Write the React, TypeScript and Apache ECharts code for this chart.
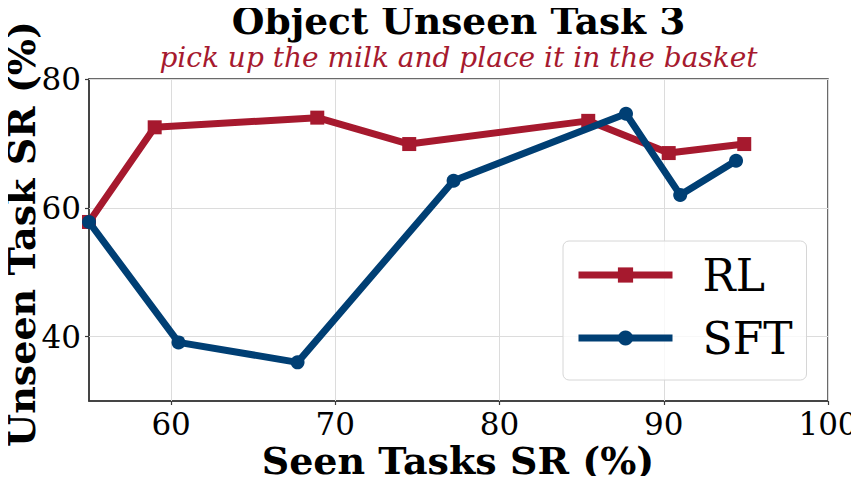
import React, { useEffect, useRef } from "react";
import * as echarts from "echarts";

const TITLE = "Object Unseen Task 3";
const SUBTITLE = "pick up the milk and place it in the basket";
const X_NAME = "Seen Tasks SR (%)";
const Y_NAME = "Unseen Task SR (%)";

const X_TICKS = [60, 70, 80, 90, 100];
const Y_TICKS = [40, 60, 80];

const RL_X = [55.0, 59.0, 68.9, 74.5, 85.4, 90.3, 94.9];
const RL_Y = [57.8, 72.5, 74.0, 69.9, 73.5, 68.5, 69.9];

const SFT_X = [55.0, 60.45, 67.7, 77.2, 87.7, 91.0, 94.4];
const SFT_Y = [57.8, 39.1, 36.0, 64.2, 74.6, 62.0, 67.3];

const RED = "#A6192E";
const BLUE = "#003F74";
const FONT = "DejaVu Serif";

export default function App() {
  const ref = useRef<HTMLDivElement>(null);
  useEffect(() => {
    if (!ref.current) return;
    const chart = echarts.init(ref.current, null, { renderer: "svg" });
    const pairs = (xs: number[], ys: number[]) => xs.map((x, i) => [x, ys[i]]);
    const gridLines = [
      ...X_TICKS.map((v) => ({ xAxis: v })),
      ...Y_TICKS.map((v) => ({ yAxis: v })),
    ];
    chart.setOption({
      animation: false,
      backgroundColor: "#fff",
      textStyle: { fontFamily: FONT },
      graphic: [
        {
          type: "text",
          x: 458.5,
          y: 21,
          style: {
            text: TITLE,
            fontFamily: FONT,
            fontWeight: "bold",
            fontSize: 37.5,
            fill: "#000",
            align: "center",
            verticalAlign: "middle",
          },
        },
        {
          type: "text",
          x: 458.5,
          y: 57,
          style: {
            text: SUBTITLE,
            fontFamily: FONT,
            fontStyle: "italic",
            fontSize: 28,
            fill: RED,
            align: "center",
            verticalAlign: "middle",
          },
        },
        {
          type: "text",
          x: 458,
          y: 460,
          style: {
            text: X_NAME,
            fontFamily: FONT,
            fontWeight: "bold",
            fontSize: 38,
            lineHeight: 32,
            fill: "#000",
            align: "center",
            verticalAlign: "middle",
          },
        },
        {
          type: "text",
          x: 21,
          y: 234,
          rotation: Math.PI / 2,
          style: {
            text: Y_NAME,
            fontFamily: FONT,
            fontWeight: "bold",
            fontSize: 38,
            lineHeight: 32,
            fill: "#000",
            align: "center",
            verticalAlign: "middle",
          },
        },
      ],
      grid: {
        left: 89,
        right: 31,
        top: 79,
        bottom: 83,
        show: true,
        borderColor: "#3a3a3a",
        borderWidth: 1.5,
        backgroundColor: "transparent",
        containLabel: false,
        outerBoundsMode: "none",
      },
      legend: {
        orient: "vertical",
        left: 563,
        top: 241,
        padding: [12, 14, 20, 12],
        itemWidth: 94,
        itemHeight: 19,
        itemGap: 19,
        z: 6,
        backgroundColor: "rgba(255,255,255,0.8)",
        borderColor: "#d6d6d6",
        borderWidth: 1,
        borderRadius: 6,
        lineStyle: { width: 7, type: "solid", cap: "butt" },
        itemStyle: { borderWidth: 0 },
        textStyle: {
          fontFamily: FONT,
          fontSize: 44,
          lineHeight: 44,
          color: "#000",
          padding: [0, 0, 0, 25],
        },
        data: ["RL", "SFT"],
      },
      xAxis: {
        type: "value",
        min: 55,
        max: 100,
        interval: 5,
        axisLine: { show: true, lineStyle: { color: "#3a3a3a", width: 1.5 } },
        axisTick: { show: true, length: 4, customValues: X_TICKS, lineStyle: { color: "#3a3a3a", width: 1.2 } },
        axisLabel: { customValues: X_TICKS, fontFamily: FONT, fontSize: 31, color: "#000", margin: 7 },
        splitLine: { show: false },
      },
      yAxis: {
        type: "value",
        min: 30,
        max: 80,
        interval: 10,
        axisLine: { show: true, lineStyle: { color: "#3a3a3a", width: 1.5 } },
        axisTick: { show: true, length: 4, customValues: Y_TICKS, lineStyle: { color: "#3a3a3a", width: 1.2 } },
        axisLabel: { customValues: Y_TICKS, fontFamily: FONT, fontSize: 31, color: "#000", margin: 8 },
        splitLine: { show: false },
      },
      series: [
        {
          name: "grid",
          type: "line",
          data: [],
          z: 0,
          silent: true,
          markLine: {
            z: 1,
            silent: true,
            symbol: "none",
            label: { show: false },
            lineStyle: { color: "#dcdcdc", width: 1, type: "solid" },
            data: gridLines,
          },
        },
        {
          name: "RL",
          type: "line",
          data: pairs(RL_X, RL_Y),
          symbol: "rect",
          symbolSize: 14,
          lineStyle: { width: 7, color: RED },
          itemStyle: { color: RED },
          z: 3,
        },
        {
          name: "SFT",
          type: "line",
          data: pairs(SFT_X, SFT_Y),
          symbol: "circle",
          symbolSize: 14,
          lineStyle: { width: 7, color: BLUE },
          itemStyle: { color: BLUE },
          z: 4,
        },
      ],
    });
    return () => chart.dispose();
  }, []);
  return <div ref={ref} style={{ width: 859, height: 484, margin: -8 }} />;
}
